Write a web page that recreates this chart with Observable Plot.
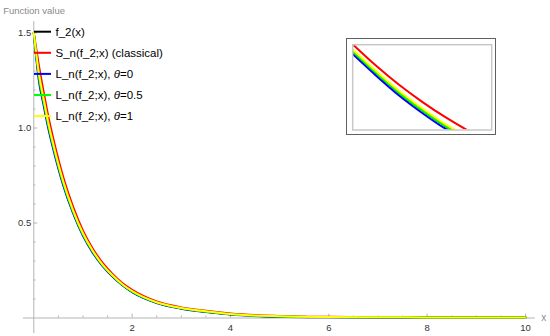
<!DOCTYPE html>
<html>
<head>
<meta charset="utf-8">
<script src="https://cdn.jsdelivr.net/npm/d3@7"></script>
<script src="https://cdn.jsdelivr.net/npm/@observablehq/plot@0.6"></script>
<style>
  body { margin: 0; background: #fff; }
  #wrap { position: relative; width: 550px; height: 336px; overflow: hidden;
          font-family: "Liberation Sans", Arial, sans-serif; }
  #wrap > svg { position: absolute; left: 0; top: 0; }
  #inset { position: absolute; left: 346px; top: 38px; width: 148px; height: 95px;
           border: 1.5px solid #606060; background: #fff; }
  #inset svg { display: block; }
  #legend { position: absolute; left: 0; top: 0; pointer-events: none; }
</style>
</head>
<body>
<div id="wrap"></div>
<script>
// ---------- data ----------
const seriesNames = ["f_2(x)", "S_n(f_2;x) (classical)", "L_n(f_2;x), θ=0", "L_n(f_2;x), θ=0.5", "L_n(f_2;x), θ=1"];
const seriesColors = ["#000000", "#ff0000", "#0000ff", "#00ff00", "#ffff00"];

const xs = [0, 0.1, 0.2, 0.3, 0.4, 0.5, 0.6, 0.8, 1.0, 1.2, 1.4, 1.6, 1.8, 2.0, 2.5, 3.0, 3.5, 4.0, 5, 6, 7, 8, 9, 10];
const f2      = [1.50,1.275,1.136,1.008,0.898,0.797,0.707,0.559,0.439,0.349,0.277,0.222,0.175,0.139,0.081,0.051,0.033,0.020,0.008,0.005,0.004,0.003,0.002,0.002];
const sClass  = [1.50,1.335,1.190,1.055,0.940,0.835,0.740,0.585,0.460,0.365,0.290,0.232,0.184,0.148,0.087,0.056,0.038,0.024,0.011,0.006,0.004,0.003,0.002,0.002];
const lTheta0 = [1.50,1.255,1.119,0.992,0.884,0.785,0.696,0.550,0.432,0.343,0.273,0.218,0.172,0.136,0.079,0.049,0.031,0.018,0.007,0.004,0.003,0.003,0.002,0.002];
const lTheta05= [1.50,1.275,1.136,1.008,0.898,0.797,0.707,0.559,0.439,0.349,0.277,0.222,0.175,0.139,0.081,0.051,0.033,0.020,0.008,0.005,0.004,0.003,0.002,0.002];
const lTheta1 = [1.50,1.295,1.154,1.023,0.912,0.810,0.718,0.567,0.446,0.354,0.281,0.225,0.178,0.142,0.083,0.053,0.035,0.021,0.009,0.005,0.004,0.003,0.002,0.002];

// inset (zoomed window)
const insetX       = [1.0, 1.1, 1.2, 1.3, 1.4, 1.5, 1.6];
const insetF2      = [0.444,0.394,0.347,0.306,0.269,0.238,0.211];
const insetS       = [0.461,0.411,0.366,0.326,0.290,0.258,0.230];
const insetL0      = [0.438,0.388,0.341,0.300,0.263,0.232,0.205];
const insetL05     = [0.444,0.394,0.347,0.306,0.269,0.238,0.211];
const insetL1      = [0.449,0.399,0.352,0.311,0.274,0.243,0.215];
const insetXDomain = [1.0, 1.6];
const insetYDomain = [0.26, 0.46];

const xTicks = [2, 4, 6, 8, 10];
const xMinor = [0.5,1,1.5,2.5,3,3.5,4.5,5,5.5,6.5,7,7.5,8.5,9,9.5];
const yTicks = [0.5, 1.0, 1.5];
const yMinor = [0.1,0.2,0.3,0.4,0.6,0.7,0.8,0.9,1.1,1.2,1.3,1.4];
const yLabel = "Function value";
const xLabel = "x";

// ---------- build tables ----------
const mainSeries = [f2, sClass, lTheta0, lTheta05, lTheta1];
const insetSeries = [insetF2, insetS, insetL0, insetL05, insetL1];
const mainData = mainSeries.flatMap((vals, i) => xs.map((x, j) => ({x, y: vals[j], name: seriesNames[i], color: seriesColors[i]})));
const insetData = insetSeries.flatMap((vals, i) => insetX.map((x, j) => ({x, y: vals[j], name: seriesNames[i], color: seriesColors[i]})));

const axisGray = "#b4b4b4";
const font = "'Liberation Sans', Arial, sans-serif";

const main = Plot.plot({
  width: 550, height: 336,
  marginLeft: 33.3, marginRight: 25, marginTop: 32.5, marginBottom: 18.5,
  x: {domain: [0, 10], axis: null},
  y: {domain: [0, 1.5], axis: null},
  color: {type: "identity"},
  style: {fontFamily: font, background: "transparent", overflow: "visible"},
  marks: [
    Plot.ruleY([0], {x1: -0.21, x2: 10.2, stroke: axisGray}),
    Plot.ruleX([0], {y1: -0.082, y2: 1.56, stroke: axisGray}),
    Plot.ruleX(xMinor, {x: d => d, y1: 0, y2: 0.011, stroke: axisGray}),
    Plot.ruleX(xTicks, {x: d => d, y1: 0, y2: 0.02, stroke: axisGray}),
    Plot.ruleY(yMinor, {y: d => d, x1: 0, x2: 0.045, stroke: axisGray}),
    Plot.ruleY(yTicks, {y: d => d, x1: 0, x2: 0.08, stroke: axisGray}),
    Plot.text(xTicks, {x: d => d, y: 0, dy: 9.5, text: d => String(d), fontSize: 9.5, fill: "#333"}),
    Plot.text(yTicks, {x: 0, y: d => d, dx: -2.5, textAnchor: "end", text: d => d.toFixed(1), fontSize: 9.5, fill: "#333"}),
    Plot.text([yLabel], {frameAnchor: "top-left", dx: -30.6, dy: -25.8, textAnchor: "start", text: d => d, fontSize: 9.5, fill: "#8a8a8a"}),
    Plot.text([xLabel], {x: 10, y: 0, dx: 18.3, text: d => d, fontSize: 10, fill: "#8a8a8a"}),
    Plot.line(mainData, {x: "x", y: "y", z: "name", stroke: "color", strokeWidth: 2, curve: "monotone-x"})
  ]
});

const wrap = document.getElementById("wrap");
wrap.appendChild(main);

// inset
const insetDiv = document.createElement("div");
insetDiv.id = "inset";
const inset = Plot.plot({
  width: 148, height: 95,
  marginLeft: 5.2, marginRight: 3.8, marginTop: 5.2, marginBottom: 4.5,
  x: {domain: insetXDomain, axis: null},
  y: {domain: insetYDomain, axis: null},
  color: {type: "identity"},
  style: {background: "transparent"},
  marks: [
    Plot.line(insetData, {x: "x", y: "y", z: "name", stroke: "color", strokeWidth: 2, curve: "monotone-x", clip: true}),
    Plot.frame({stroke: "#c8c8c8", strokeWidth: 1.5})
  ]
});
insetDiv.appendChild(inset);
wrap.appendChild(insetDiv);

// legend
const leg = d3.select(wrap).append("svg").attr("id", "legend").attr("width", 550).attr("height", 336);
const rowY0 = 31.7, rowStep = 21.1;
seriesNames.forEach((name, i) => {
  const y = rowY0 + i * rowStep;
  leg.append("line").attr("x1", 34).attr("x2", 51).attr("y1", y).attr("y2", y)
     .attr("stroke", seriesColors[i]).attr("stroke-width", 2);
  const t = leg.append("text").attr("x", 55.5).attr("y", y + 4.1)
     .attr("font-family", font).attr("font-size", 11.5).attr("fill", "#000");
  const k = name.indexOf("θ");
  if (k >= 0) {
    t.append("tspan").text(name.slice(0, k));
    t.append("tspan").attr("font-style", "italic").text("θ");
    t.append("tspan").text(name.slice(k + 1));
  } else {
    t.text(name);
  }
});
</script>
</body>
</html>
